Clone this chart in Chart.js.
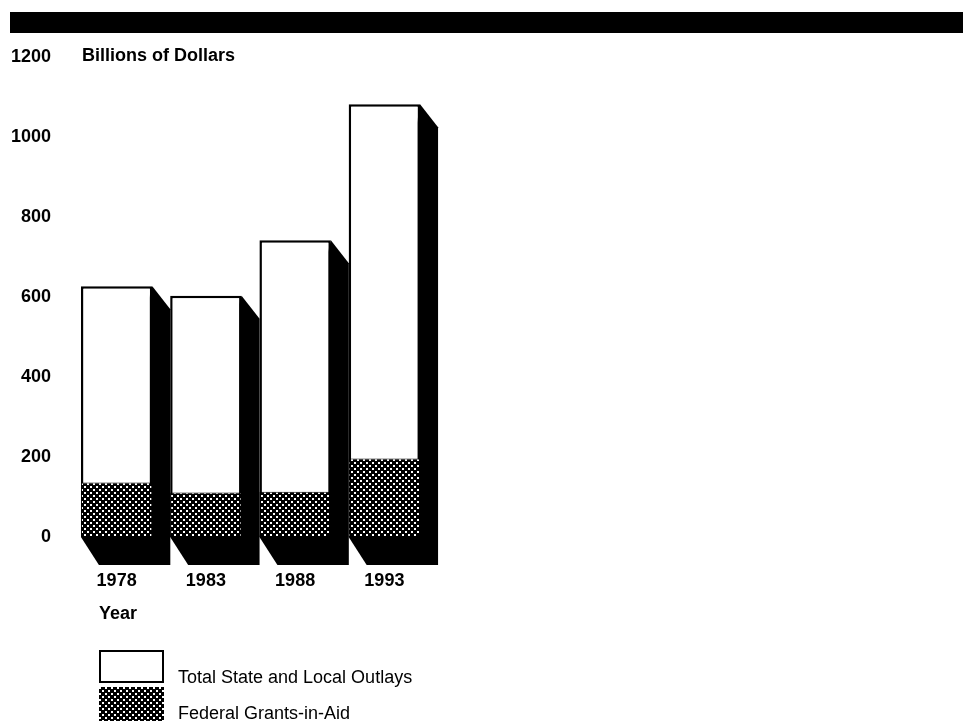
<!DOCTYPE html>
<html>
<head>
<meta charset="utf-8">
<title>State and Local Outlays and Federal Grants-in-Aid</title>
<script src="https://cdn.jsdelivr.net/npm/chart.js@4/dist/chart.umd.min.js"></script>
<style>
  html, body { margin: 0; padding: 0; background: #fff; }
  #wrap { position: relative; width: 963px; height: 721px; overflow: hidden; }
  canvas { display: block; }
</style>
</head>
<body>
<div id="wrap"><canvas id="chart" width="963" height="721"></canvas></div>
<script>
// Fiscal years shown on the category axis
const years = ['1978', '1983', '1988', '1993'];
// Total state and local outlays, billions of dollars
const totalOutlays = [627, 603, 742, 1082];
// Federal grants-in-aid, billions of dollars
const federalGrants = [136, 111, 113, 196];
// Value axis ticks
const yTicks = [0, 200, 400, 600, 800, 1000, 1200];

const legendLabels = ['Total State and Local Outlays', 'Federal Grants-in-Aid'];
const FONT = "'Liberation Sans', Arial, Helvetica, sans-serif";

const canvas = document.getElementById('chart');
const ctx = canvas.getContext('2d');

// Fine black/white dot screen used for the grants fill
function makeDotPattern(c) {
  const tile = document.createElement('canvas');
  tile.width = 6; tile.height = 6;
  const t = tile.getContext('2d');
  t.fillStyle = '#000';
  t.fillRect(0, 0, 6, 6);
  t.fillStyle = '#fff';
  t.fillRect(0, 0, 2, 2);
  t.fillRect(3, 3, 2, 2);
  return c.createPattern(tile, 'repeat');
}
const dotPattern = makeDotPattern(ctx);

// Solid black drop shadow behind each outlay bar
const barShadow = {
  id: 'barShadow',
  beforeDatasetsDraw(chart) {
    const meta = chart.getDatasetMeta(1);
    const c = chart.ctx;
    const dx = 18, dyTop = 23, dyBottom = 28;
    c.save();
    c.fillStyle = '#000';
    meta.data.forEach(el => {
      const { x, y, base, width } = el.getProps(['x', 'y', 'base', 'width'], true);
      const left = x - width / 2, right = x + width / 2;
      c.beginPath();
      c.moveTo(left, base);
      c.lineTo(left + dx, base + dyBottom);
      c.lineTo(right + dx, base + dyBottom);
      c.lineTo(right + dx, y + dyTop);
      c.lineTo(right, y);
      c.closePath();
      c.fill();
    });
    c.restore();
  }
};

// Header band, unit caption, axis caption and legend
const decorations = {
  id: 'decorations',
  afterDraw(chart) {
    const c = chart.ctx;
    c.save();
    c.fillStyle = '#000';
    c.fillRect(10, 12, 953, 21);

    c.font = 'bold 18px ' + FONT;
    c.textAlign = 'left';
    c.textBaseline = 'middle';
    c.fillText('Billions of Dollars', 82, 56);
    c.fillText('Year', 99, 614);

    // legend swatches
    c.lineWidth = 2;
    c.strokeStyle = '#000';
    c.fillStyle = '#fff';
    c.fillRect(100, 651, 63, 31);
    c.strokeRect(100, 651, 63, 31);
    c.fillStyle = dotPattern;
    c.fillRect(99, 687, 65, 34);

    c.fillStyle = '#000';
    c.font = '18px ' + FONT;
    c.textBaseline = 'alphabetic';
    c.fillText(legendLabels[0], 178, 683);
    c.fillText(legendLabels[1], 178, 719);
    c.restore();
  }
};

new Chart(ctx, {
  type: 'bar',
  data: {
    labels: years,
    datasets: [
      {
        label: legendLabels[1],
        data: federalGrants,
        backgroundColor: dotPattern,
        borderColor: '#000',
        borderWidth: 1,
        borderSkipped: 'start',
        grouped: false,
        order: 0,
        barPercentage: 0.8,
        categoryPercentage: 1
      },
      {
        label: legendLabels[0],
        data: totalOutlays,
        backgroundColor: '#fff',
        borderColor: '#000',
        borderWidth: 2.5,
        borderSkipped: 'start',
        grouped: false,
        order: 1,
        barPercentage: 0.8,
        categoryPercentage: 1
      }
    ]
  },
  options: {
    responsive: false,
    animation: false,
    devicePixelRatio: 1,
    layout: { padding: { top: 57, right: 534, bottom: 124, left: 0 } },
    plugins: {
      legend: { display: false },
      tooltip: { enabled: false },
      title: { display: false }
    },
    scales: {
      x: {
        grid: { display: false, drawTicks: false },
        border: { display: false },
        ticks: {
          color: '#000',
          font: { family: FONT, size: 18, weight: 'bold' },
          padding: 33,
          maxRotation: 0
        },
        afterFit(scale) { scale.height = 60; }
      },
      y: {
        min: 0,
        max: 1200,
        grid: { display: false, drawTicks: false },
        border: { display: false },
        afterBuildTicks(scale) { scale.ticks = yTicks.map(v => ({ value: v })); },
        ticks: {
          color: '#000',
          font: { family: FONT, size: 18, weight: 'bold' },
          padding: 21,
          callback: v => String(v)
        },
        afterFit(scale) { scale.width = 72; }
      }
    }
  },
  plugins: [barShadow, decorations]
});
</script>
</body>
</html>
